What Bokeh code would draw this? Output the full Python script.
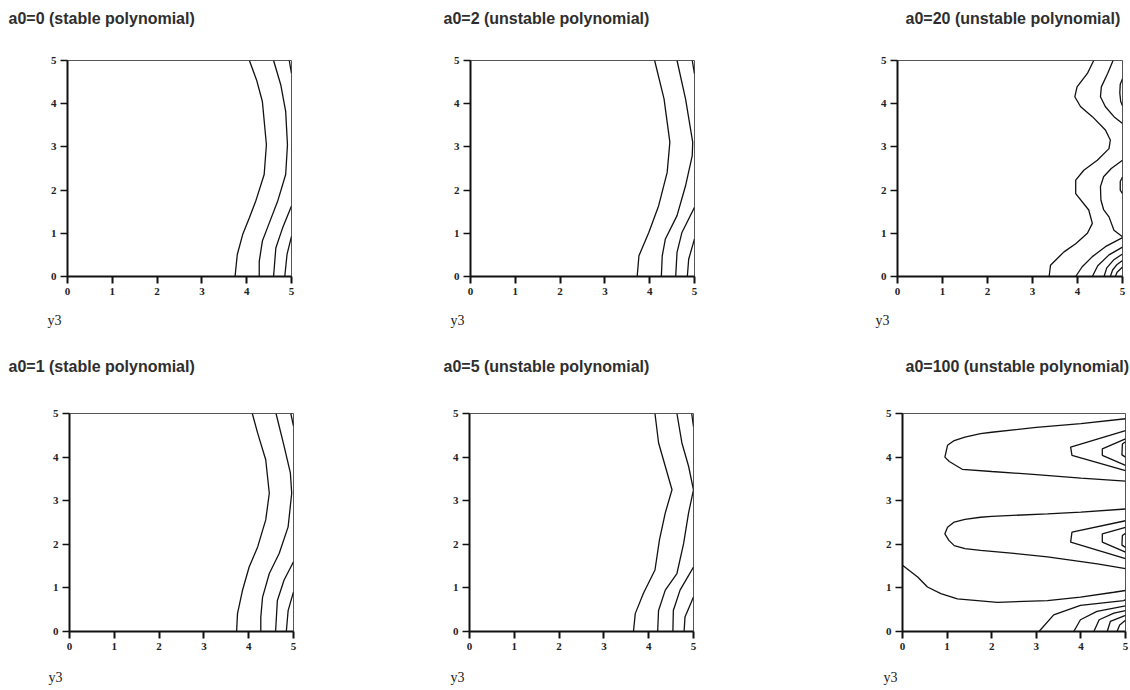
from bokeh.plotting import figure
from bokeh.models import Range1d, Title, FixedTicker, ColumnDataSource
from bokeh.layouts import row, column
from bokeh.embed import file_html
from bokeh.resources import INLINE

TICKS = [0, 1, 2, 3, 4, 5]
X_LABEL = "y3"
TITLES = ["a0=0 (stable polynomial)", "a0=2 (unstable polynomial)", "a0=20 (unstable polynomial)",
          "a0=1 (stable polynomial)", "a0=5 (unstable polynomial)", "a0=100 (unstable polynomial)"]

# contour lines (x = y3 axis, y = vertical axis)
A0_0_XS = [[4.06, 4.22, 4.35, 4.44, 4.39, 4.20, 4.06, 3.91, 3.79, 3.74],
           [4.60, 4.76, 4.87, 4.91, 4.87, 4.69, 4.46, 4.35, 4.28, 4.28],
           [5.0, 4.80, 4.65, 4.60],
           [5.0, 4.90, 4.85],
           [4.95, 5.0]]
A0_0_YS = [[5, 4.55, 4.05, 3.05, 2.36, 1.74, 1.36, 0.97, 0.51, 0],
           [5, 4.44, 3.82, 3.05, 2.36, 1.74, 1.12, 0.82, 0.35, 0],
           [1.63, 1.12, 0.66, 0],
           [0.93, 0.51, 0],
           [5, 4.7]]

A0_1_XS = [[4.08, 4.20, 4.38, 4.46, 4.38, 4.20, 4.01, 3.86, 3.75, 3.73],
           [4.61, 4.79, 4.93, 4.96, 4.88, 4.68, 4.46, 4.31, 4.27, 4.27],
           [5.0, 4.79, 4.64, 4.60],
           [5.0, 4.88, 4.84],
           [4.94, 5.0]]
A0_1_YS = [[5, 4.55, 3.94, 3.17, 2.56, 1.94, 1.48, 0.94, 0.41, 0],
           [5, 4.25, 3.64, 3.17, 2.4, 1.79, 1.33, 0.79, 0.33, 0],
           [1.6, 1.18, 0.71, 0],
           [0.91, 0.48, 0],
           [5, 4.71]]

A0_2_XS = [[4.11, 4.32, 4.45, 4.39, 4.20, 3.98, 3.76, 3.72],
           [4.61, 4.80, 4.96, 4.95, 4.80, 4.61, 4.35, 4.28, 4.26],
           [5.0, 4.72, 4.61, 4.58],
           [5.0, 4.87, 4.84],
           [4.95, 5.0]]
A0_2_YS = [[5, 4.11, 3.11, 2.41, 1.64, 1.02, 0.48, 0],
           [5, 4.11, 3.11, 2.8, 2.1, 1.41, 0.87, 0.48, 0],
           [1.6, 1.02, 0.56, 0],
           [0.87, 0.4, 0],
           [5, 4.69]]

A0_5_XS = [[4.14, 4.22, 4.37, 4.52, 4.37, 4.24, 4.14, 3.88, 3.70, 3.66],
           [4.63, 4.74, 4.89, 5.0, 4.89, 4.78, 4.63, 4.37, 4.22, 4.20],
           [5.0, 4.70, 4.55, 4.54],
           [5.0, 4.81, 4.79],
           [4.96, 5.0]]
A0_5_YS = [[5, 4.33, 3.79, 3.25, 2.72, 2.1, 1.41, 0.87, 0.41, 0],
           [5, 4.33, 3.79, 3.25, 2.72, 2.02, 1.33, 0.95, 0.48, 0],
           [1.48, 0.95, 0.48, 0],
           [0.79, 0.33, 0],
           [5, 4.7]]

A0_20_XS = [[4.36, 4.22, 3.99, 3.94, 4.07, 4.33, 4.62, 4.73, 4.70, 4.44, 4.14, 3.96, 3.96, 4.25, 4.33, 4.22, 3.96, 3.70, 3.40, 3.37],
            [4.79, 4.67, 4.53, 4.51, 4.62, 4.81, 5.0],
            [5.0, 4.75, 4.58, 4.51, 4.52, 4.58, 4.70, 4.81, 5.0],
            [3.96, 4.10, 4.33, 4.62, 5.0],
            [4.33, 4.45, 4.70, 5.0],
            [4.59, 4.65, 4.80, 5.0],
            [4.73, 4.78, 4.88, 5.0],
            [4.84, 4.88, 5.0],
            [5.0, 4.95, 4.94, 4.96, 5.0],
            [5.0, 4.95, 4.95, 5.0]]
A0_20_YS = [[5, 4.70, 4.39, 4.16, 3.93, 3.70, 3.39, 3.16, 2.96, 2.69, 2.46, 2.23, 1.92, 1.54, 1.23, 1.0, 0.76, 0.57, 0.26, 0],
            [5, 4.70, 4.39, 4.16, 3.93, 3.70, 3.54],
            [2.69, 2.5, 2.31, 2.08, 1.77, 1.55, 1.38, 1.07, 0.92],
            [0, 0.22, 0.46, 0.69, 0.90],
            [0, 0.25, 0.5, 0.68],
            [0, 0.2, 0.38, 0.52],
            [0, 0.15, 0.28, 0.37],
            [0, 0.1, 0.22],
            [4.58, 4.45, 4.25, 4.05, 3.95],
            [2.3, 2.2, 2.0, 1.92]]

A0_100_XS = [[5, 4.0, 3.0, 2.0, 1.75, 1.4, 1.16, 1.01, 0.95, 1.05, 1.16, 1.34, 2.0, 3.0, 4.0, 5],
             [5, 3.77, 3.80, 5],
             [5, 4.48, 4.48, 5],
             [5, 4.93, 4.92, 5],
             [5, 4.0, 3.25, 2.0, 1.75, 1.4, 1.16, 1.01, 0.95, 1.04, 1.16, 1.4, 1.75, 2.5, 3.25, 4.37, 5],
             [5, 3.80, 3.77, 5],
             [5, 4.48, 4.48, 5],
             [5, 4.93, 4.92, 5],
             [0, 0.34, 0.56, 0.86, 1.23, 2.13, 3.25, 3.99, 4.74, 5],
             [3.06, 3.39, 3.99, 4.96, 5],
             [3.84, 3.99, 4.36, 5],
             [4.29, 4.41, 4.74, 5],
             [4.59, 4.66, 5],
             [4.81, 4.87, 5]]
A0_100_YS = [[4.88, 4.77, 4.68, 4.57, 4.54, 4.46, 4.38, 4.27, 4.0, 3.9, 3.83, 3.72, 3.67, 3.6, 3.52, 3.45],
             [4.61, 4.23, 4.04, 3.69],
             [4.42, 4.19, 4.04, 3.81],
             [4.35, 4.3, 4.05, 4.0],
             [2.81, 2.74, 2.7, 2.64, 2.62, 2.57, 2.51, 2.39, 2.24, 2.09, 1.97, 1.9, 1.86, 1.79, 1.71, 1.55, 1.44],
             [2.54, 2.28, 2.05, 1.67],
             [2.39, 2.24, 2.05, 1.82],
             [2.25, 2.2, 1.98, 1.93],
             [1.52, 1.25, 1.02, 0.87, 0.75, 0.67, 0.71, 0.79, 0.9, 0.94],
             [0, 0.38, 0.60, 0.71, 0.73],
             [0, 0.27, 0.46, 0.59],
             [0, 0.27, 0.42, 0.48],
             [0, 0.23, 0.37],
             [0, 0.15, 0.26]]


def panel(title, xs, ys, width, height, left, right, top, bottom, t_off, t_gap, y3_off, y3_gap):
    p = figure(width=width, height=height, x_range=Range1d(0, 5), y_range=Range1d(0, 5),
               output_backend="svg", toolbar_location=None,
               min_border_left=left, min_border_right=right,
               min_border_top=top, min_border_bottom=bottom)
    p.grid.visible = False
    p.outline_line_color = "#555555"
    p.outline_line_width = 1
    p.background_fill_color = "white"
    p.border_fill_color = "white"
    for ax in (p.xaxis[0], p.yaxis[0]):
        ax.ticker = FixedTicker(ticks=TICKS)
        ax.axis_line_color = "#111111"
        ax.axis_line_width = 2
        ax.major_tick_line_color = "#111111"
        ax.major_tick_in = 0
        ax.major_tick_out = 7
        ax.minor_tick_line_color = None
        ax.major_label_text_font = "Liberation Serif"
        ax.major_label_text_font_style = "bold"
        ax.major_label_text_font_size = "11px"
        ax.major_label_text_color = "#222222"
        ax.major_label_standoff = 4
    p.xaxis.major_tick_line_width = 2
    p.yaxis.major_tick_line_width = 1.5
    src = ColumnDataSource(dict(xs=xs, ys=ys))
    p.multi_line("xs", "ys", source=src, line_color="#111111", line_width=1.3)

    # blank spacer panel first (closest to the frame), then the visible title
    p.add_layout(Title(text=" ", text_color="white", text_font_size="16px", standoff=t_gap), "above")
    p.add_layout(Title(text=title, align="left", offset=t_off, text_font="Liberation Sans",
                       text_font_size="16px", text_font_style="bold", text_color="#2e2e2e",
                       standoff=0), "above")

    p.add_layout(Title(text=" ", text_color="white", text_font_size="8px", standoff=y3_gap), "below")
    p.add_layout(Title(text=X_LABEL, align="left", offset=y3_off, text_font="Liberation Serif",
                       text_font_size="14px", text_font_style="normal", text_color="#222222",
                       standoff=0), "below")
    return p


p1 = panel(TITLES[0], A0_0_XS, A0_0_YS, 380, 330, 67, 89, 60, 54, -59, 15, -20, 2)
p2 = panel(TITLES[1], A0_2_XS, A0_2_YS, 400, 330, 90, 86, 60, 54, -27, 15, -20, 2)
p3 = panel(TITLES[2], A0_20_XS, A0_20_YS, 350, 330, 117, 8, 60, 54, 8, 15, -22, 2)
p4 = panel(TITLES[3], A0_1_XS, A0_1_YS, 380, 360, 69, 87, 83, 59, -61, 20, -21, 4)
p5 = panel(TITLES[4], A0_5_XS, A0_5_YS, 400, 360, 89, 87, 83, 59, -26, 20, -19, 4)
p6 = panel(TITLES[5], A0_100_XS, A0_100_YS, 350, 360, 122, 5, 83, 59, 3, 20, -19, 4)

layout = column(row(p1, p2, p3, spacing=0), row(p4, p5, p6, spacing=0), spacing=0)
open("out.html", "w").write(file_html(layout, INLINE))
